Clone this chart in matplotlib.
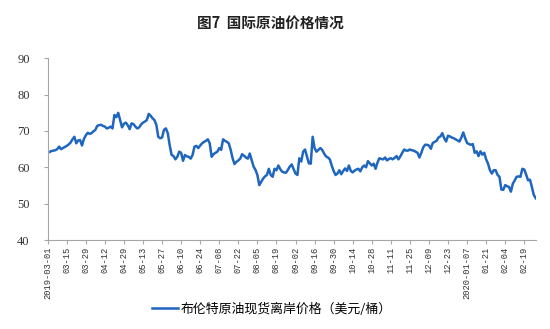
import numpy as np
import matplotlib
matplotlib.use("Agg")
import matplotlib.pyplot as plt

plt.rcParams['font.family'] = ['Noto Sans CJK SC', 'DejaVu Sans']

# --- Data: Brent spot price, one value per trading day ---
brent = [
    64.3, 64.2, 64.5, 64.6, 64.7, 65.0, 65.7, 65.0, 65.3, 65.6,
    65.9, 66.3, 66.8, 67.7, 68.4, 66.6, 67.4, 67.5, 66.0, 67.8,
    68.8, 69.5, 69.2, 69.4, 69.9, 70.3, 71.4, 71.6, 71.7, 71.4,
    71.2, 70.7, 70.9, 71.2, 70.7, 74.4, 73.8, 75.0, 73.0, 71.0,
    72.0, 72.3, 71.6, 70.5, 72.1, 71.9, 71.2, 70.7, 71.0, 71.8,
    72.3, 72.6, 73.0, 74.7, 74.2, 73.5, 73.0, 71.7, 68.4, 68.0,
    68.2, 70.3, 70.7, 69.4, 66.1, 63.4, 63.1, 62.2, 62.9, 64.3,
    64.0, 61.8, 63.4, 63.0, 62.9, 62.4, 63.4, 65.7, 65.9, 65.3,
    66.0, 66.6, 67.0, 67.3, 67.7, 66.6, 62.9, 63.6, 64.0, 64.3,
    65.3, 64.8, 67.7, 67.3, 67.0, 66.6, 64.8, 62.5, 60.9, 61.5,
    61.9, 62.4, 63.6, 63.2, 62.7, 62.4, 63.8, 62.0, 60.2, 59.3,
    57.9, 55.1, 56.0, 56.9, 57.5, 57.9, 59.6, 57.9, 57.4, 59.6,
    59.2, 60.5, 59.5, 58.8, 58.6, 58.5, 59.3, 60.2, 60.8, 59.5,
    58.3, 57.9, 62.5, 61.6, 64.3, 64.9, 63.0, 61.1, 61.0, 68.4,
    65.3, 64.3, 64.8, 65.3, 64.8, 63.8, 63.0, 62.7, 62.2, 60.5,
    59.0, 57.9, 58.3, 59.2, 58.1, 59.0, 59.7, 59.0, 60.5, 59.0,
    58.6, 59.1, 59.4, 59.6, 58.9, 60.0, 60.5, 60.0, 61.7, 61.1,
    60.5, 61.0, 59.6, 61.3, 62.5, 62.3, 62.2, 62.7, 61.9, 62.3,
    62.5, 62.2, 62.6, 63.1, 62.2, 63.0, 64.0, 64.9, 64.6, 64.6,
    64.9, 64.7, 64.6, 64.3, 64.0, 62.7, 64.0, 65.5, 66.2, 66.2,
    66.0, 65.1, 66.7, 67.0, 67.3, 68.2, 68.5, 69.4, 68.0, 67.1,
    68.7, 68.5, 68.2, 68.0, 67.7, 67.4, 67.1, 68.2, 69.6, 68.0,
    66.7, 66.4, 66.2, 66.4, 64.0, 64.4, 63.1, 64.4, 63.5, 64.0,
    62.2, 61.0, 59.2, 58.3, 59.2, 59.2, 57.9, 57.4, 53.9, 53.8,
    55.1, 54.8, 54.6, 53.3, 55.5, 56.4, 57.4, 57.5, 57.4, 59.6,
    59.4, 58.0, 56.4, 56.6, 54.6, 52.4, 51.5,
]

# tick labels, one every 10 trading days
tick_labels = [
    '2019-03-01', '03-15', '03-29', '04-12', '04-29', '05-13', '05-27',
    '06-10', '06-24', '07-08', '07-22', '08-05', '08-19', '09-02',
    '09-16', '09-30', '10-14', '10-28', '11-11', '11-25', '12-09',
    '12-23', '2020-01-07', '01-21', '02-04', '02-19',
]
tick_step = 10
y_ticks = [40, 50, 60, 70, 80, 90]

title = '图7  国际原油价格情况'
series_name = '布伦特原油现货离岸价格（美元/桶）'

# --- Plot ---
fig = plt.figure(figsize=(5.5, 3.29), dpi=100)
ax = fig.add_axes([0.0867, 0.2705, 0.8873, 0.5523])

x = np.arange(len(brent))
ax.plot(x, brent, color='#1F66BF', linewidth=1.8, label=series_name)

ax.set_xlim(0, len(brent) - 1)
ax.set_ylim(40, 90)
ax.set_yticks(y_ticks)
ax.set_xticks(np.arange(len(tick_labels)) * tick_step)
ax.set_xticklabels(tick_labels, rotation=90)

ax.tick_params(axis='x', length=3, color='#A6A6A6', pad=2, labelsize=6.3,
               labelcolor='#333333', labelfontfamily='Liberation Mono')
ax.tick_params(axis='y', length=3, color='#A6A6A6', pad=10, labelsize=9,
               labelcolor='#333333', labelfontfamily='Liberation Serif')

for side in ['top', 'right']:
    ax.spines[side].set_visible(False)
for side in ['left', 'bottom']:
    ax.spines[side].set_color('#A6A6A6')
    ax.spines[side].set_linewidth(0.8)

fig.text(0.491, 0.931, title, ha='center', va='center', fontsize=10.5,
         fontweight='bold', color='#222222')

fig.legend(loc='center', bbox_to_anchor=(0.494, 0.061), frameon=False,
           fontsize=9.3, handlelength=2.0, handletextpad=0.2)

fig.savefig('out.png', dpi=100)
